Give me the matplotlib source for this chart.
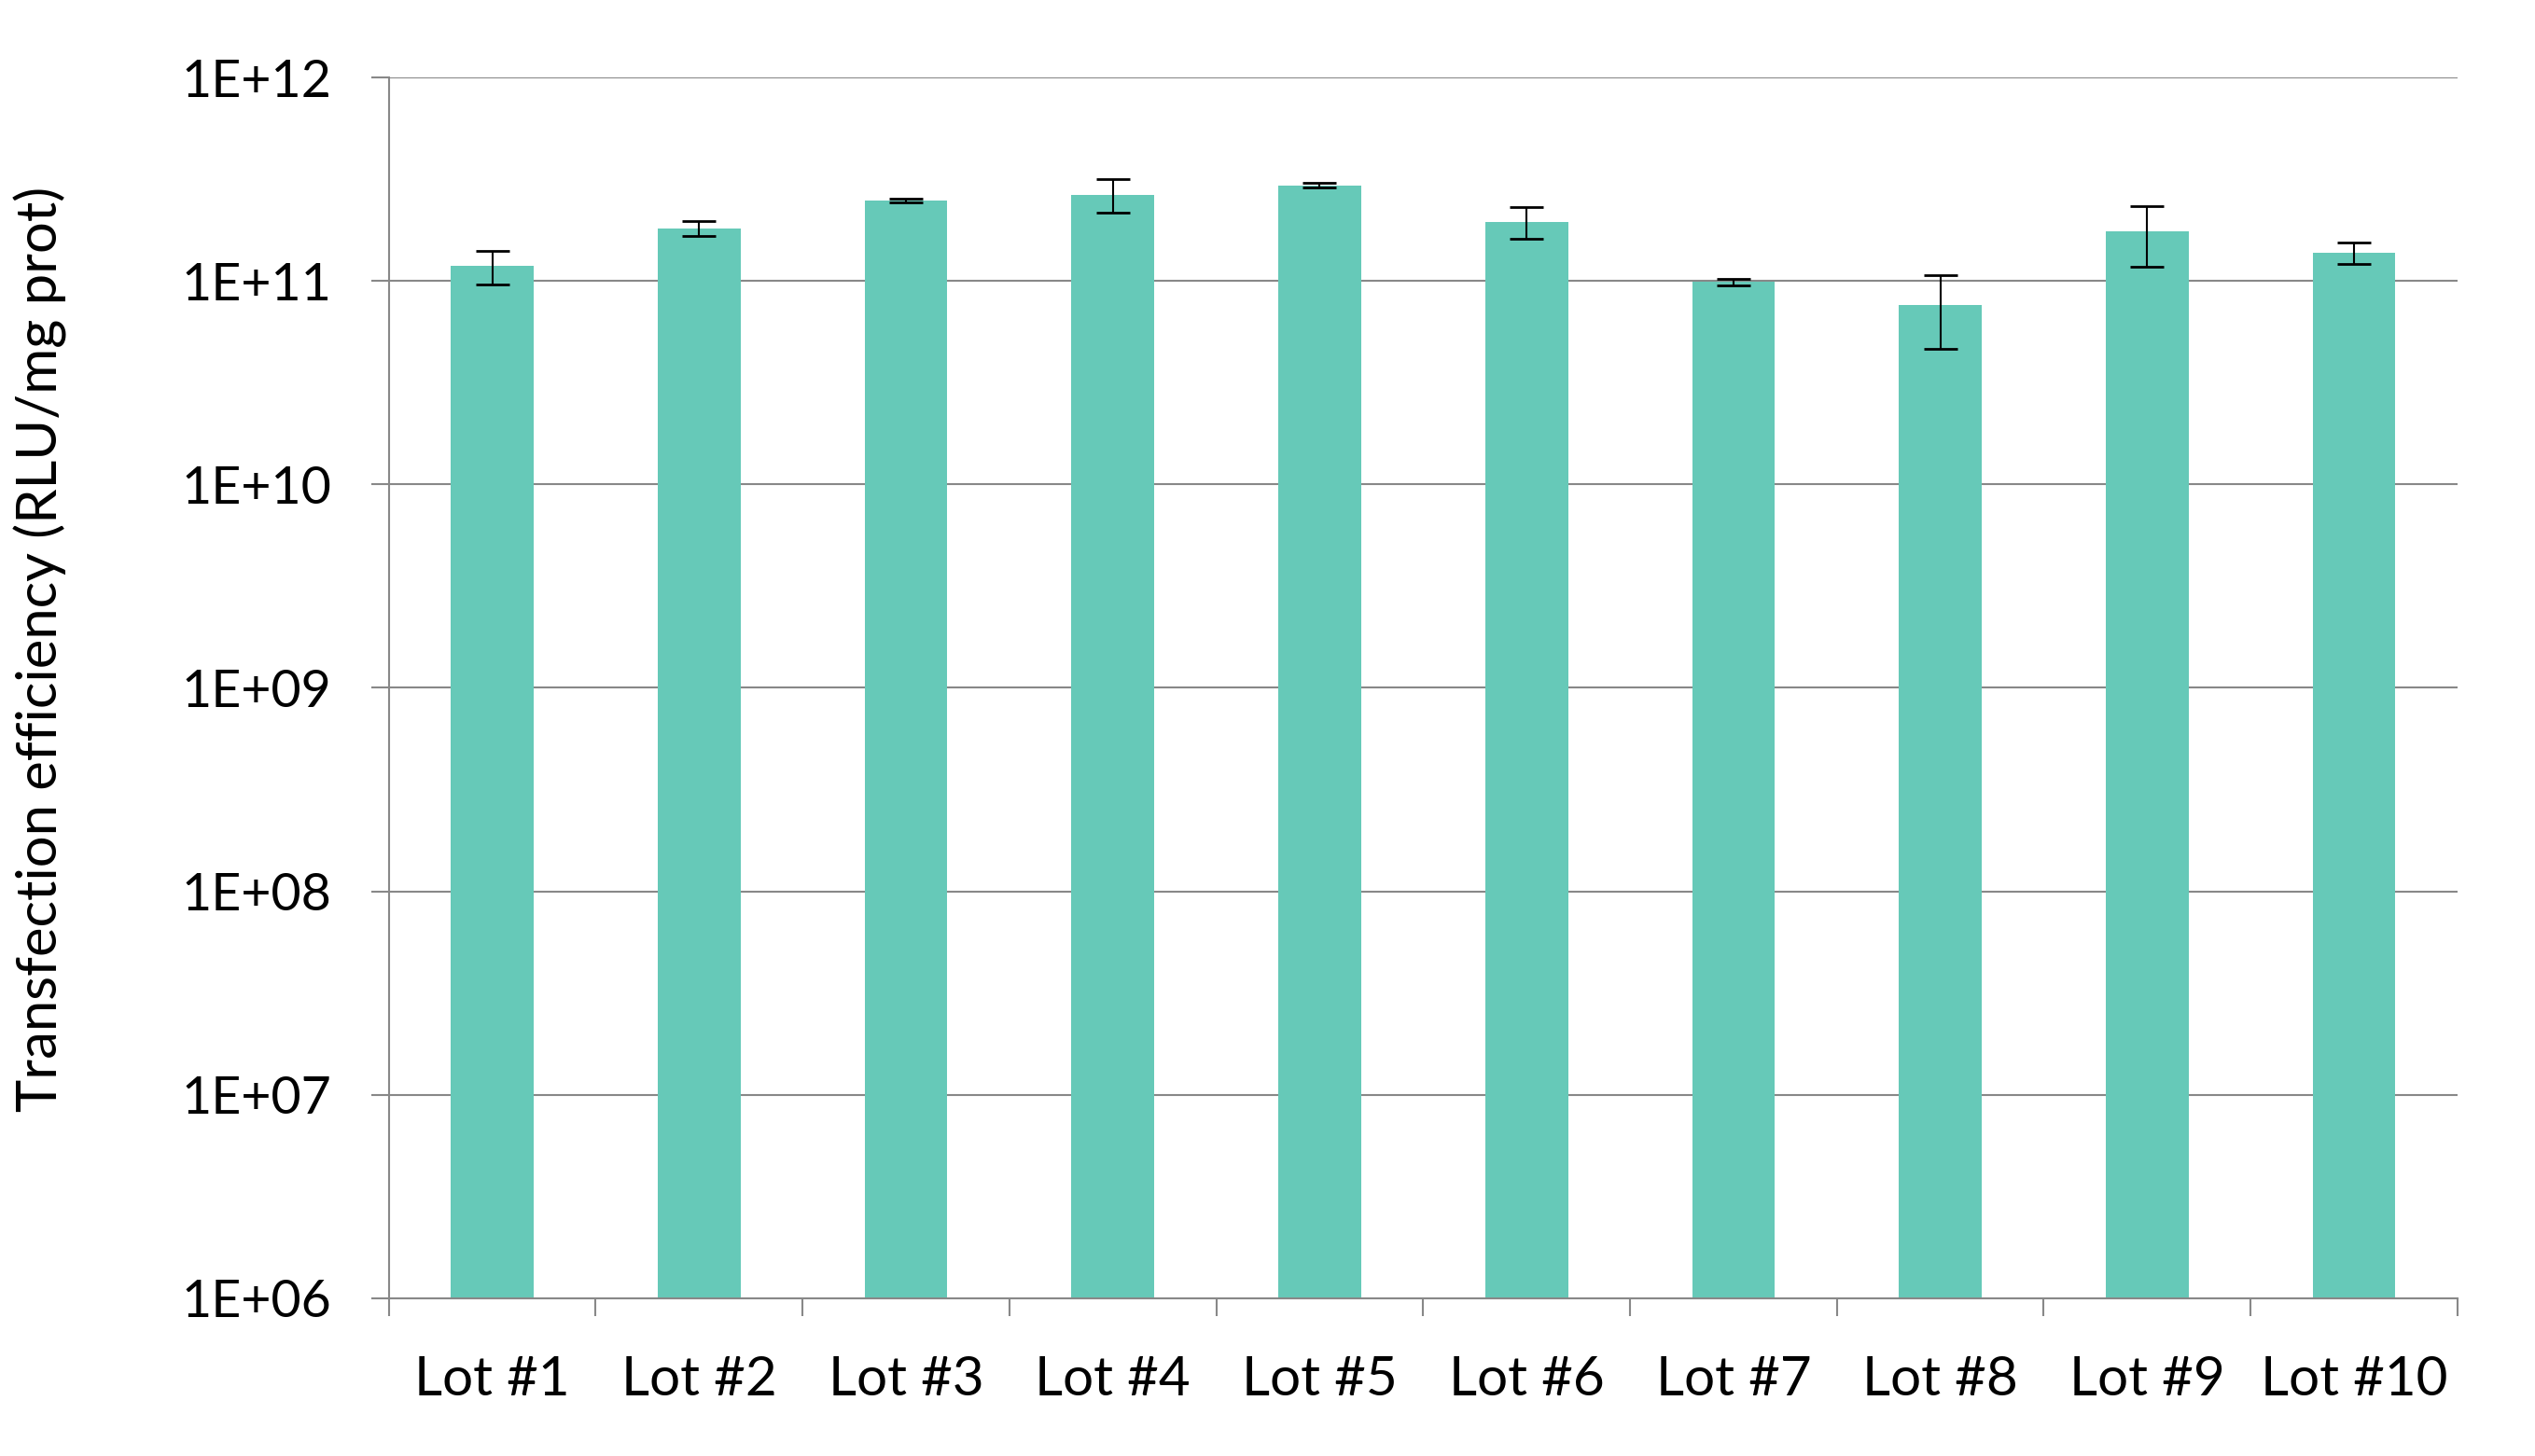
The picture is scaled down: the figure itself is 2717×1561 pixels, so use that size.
import numpy as np
import matplotlib
matplotlib.use("Agg")
import matplotlib.pyplot as plt
from matplotlib.ticker import FixedLocator, NullFormatter

# Values (RLU/mg prot)
lots = ["Lot #1", "Lot #2", "Lot #3", "Lot #4", "Lot #5",
        "Lot #6", "Lot #7", "Lot #8", "Lot #9", "Lot #10"]
means = [1.19e11, 1.82e11, 2.50e11, 2.66e11, 2.96e11,
         1.96e11, 0.99e11, 0.766e11, 1.76e11, 1.38e11]
errors = [0.225e11, 0.16e11, 0.05e11, 0.50e11, 0.07e11,
          0.35e11, 0.04e11, 0.30e11, 0.58e11, 0.17e11]
ytick_vals = [1e6, 1e7, 1e8, 1e9, 1e10, 1e11, 1e12]
ytick_labels = ["1E+06", "1E+07", "1E+08", "1E+09", "1E+10", "1E+11", "1E+12"]

BAR = "#66C9B8"
GRID = "#888888"

plt.rcParams["font.family"] = ["Lato", "DejaVu Sans"]

fig = plt.figure(figsize=(27.17, 15.61), dpi=100)
ax = fig.add_axes([0.1534, 0.1085, 0.8160, 0.8381])

x = np.arange(len(lots))
ax.bar(x, means, width=0.4, color=BAR, zorder=2)
ax.errorbar(x, means, yerr=errors, fmt="none", ecolor="black",
            elinewidth=1.5, capsize=13, capthick=2, zorder=3)

ax.set_yscale("log")
ax.set_ylim(1e6, 1e12)
ax.set_xlim(-0.5, len(lots) - 0.5)

ax.yaxis.set_major_locator(FixedLocator(ytick_vals))
ax.set_yticklabels(ytick_labels)
ax.yaxis.set_minor_locator(FixedLocator([]))
ax.grid(axis="y", color=GRID, linewidth=1.5, zorder=0)
ax.set_axisbelow(True)

ax.set_xticks(x)
ax.set_xticklabels(lots)
ax.xaxis.set_minor_locator(FixedLocator(np.arange(-0.5, len(lots), 1.0)))
ax.xaxis.set_minor_formatter(NullFormatter())

ax.tick_params(axis="x", which="major", length=0, pad=44, labelsize=42)
ax.tick_params(axis="x", which="minor", length=14, width=1.5, color=GRID,
               direction="out")
ax.tick_params(axis="y", which="major", length=14, width=1.5, color=GRID,
               direction="out", pad=30, labelsize=40)

for side in ("top", "right"):
    ax.spines[side].set_visible(False)
for side in ("left", "bottom"):
    ax.spines[side].set_color(GRID)
    ax.spines[side].set_linewidth(1.5)

ax.set_ylabel("Transfection efficiency (RLU/mg prot)", fontsize=43, labelpad=88)
ax.yaxis.label.set_y(0.532)

fig.savefig("out.png", dpi=100, facecolor="white")
